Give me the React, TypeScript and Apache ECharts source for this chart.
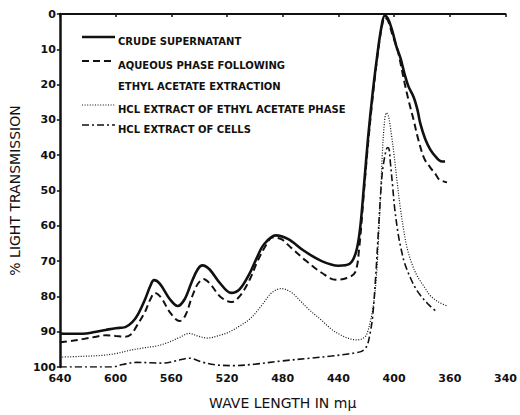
import React, { useEffect, useRef } from "react";
import * as echarts from "echarts";

const seriesNames = [
  "CRUDE SUPERNATANT",
  "AQUEOUS PHASE FOLLOWING\nETHYL ACETATE EXTRACTION",
  "HCL EXTRACT OF ETHYL ACETATE PHASE",
  "HCL EXTRACT OF CELLS",
];

const xTickValues = [640, 600, 560, 520, 480, 440, 400, 360, 320];
const xTickLabels = ["640", "600", "560", "520", "480", "440", "400", "360", "340"];
const yTickLabels = ["0", "10", "20", "30", "40", "50", "60", "70", "80", "90", "100"];

const crudeSupernatant: [number, number][] = [
  [640, 90.5], [630, 90.6], [623.6, 90.6], [615, 90.1], [607, 89.5], [600, 89.0], [593, 88.7],
  [588, 87.3], [583.8, 85], [578.8, 80.8], [575, 77], [572.4, 75.4], [568, 76.5], [561, 80.8],
  [555.4, 82.7], [550.4, 80.8], [545.4, 76], [541, 72.3], [537.6, 71.2], [532.6, 72.3],
  [525.5, 76], [517, 79], [511, 78], [504, 73.7], [498.5, 69], [493.5, 65.3], [485, 62.7],
  [476, 63.8], [465, 67], [452, 70], [440, 71.3], [432, 70.8], [427.4, 67.5],
  [424.5, 61], [421.7, 49], [418.8, 35.5], [415.3, 22], [411.7, 10.5],
  [409, 3.5], [406.8, 0.5], [404.5, 1.2], [401.5, 4.5], [398.5, 9], [395.4, 12.5],
  [392.5, 17], [389.7, 20.5], [386, 23.5], [383.3, 27], [381.2, 31], [377.6, 35.5],
  [374, 38.4], [370, 40.5], [366.5, 41.7], [363.4, 41.8],
];

const aqueousPhase: [number, number][] = [
  [640, 93.0], [630, 92.5], [623.6, 92.1], [615, 91.5], [607, 91.0], [600, 91.2], [593, 91.4],
  [589, 90.8], [585, 88.5], [579, 84.5], [575, 80.8], [571.7, 79], [567, 80.5], [561, 84.5],
  [554, 87], [550, 85.5], [545, 80], [541, 76.5], [537, 75.1], [532, 76.5], [525, 80],
  [517, 81.6], [511, 80], [504, 75.5], [498, 70], [492, 65.5], [487.5, 63.3], [481, 63.8],
  [474, 66.2], [463, 70], [452, 73.3], [442, 75.3], [434, 74.8], [428, 73.2],
  [425, 66], [422, 52], [419, 38], [415.5, 24], [412, 12], [409, 4], [406.6, 1], [404.5, 1.8],
  [401.1, 6], [397.5, 10.2], [392.5, 19.5], [389.7, 24.3], [386, 30], [382.6, 35.6],
  [378.3, 41], [374, 43.5], [370, 45.5], [367.6, 46.9], [362, 47.7],
];

const hclEthylAcetate: [number, number][] = [
  [640, 97.2], [625, 97], [610, 96.7], [600, 96.2], [590, 95.3], [580, 94.6], [570, 94],
  [562, 93], [555, 91.8], [547, 90.5], [541, 91.2], [534, 91.8], [525, 91], [518, 90],
  [511, 88.4], [503, 86.2], [495, 82.5], [488, 79], [481, 77.8], [474, 78.8], [468, 81],
  [461.5, 83.6], [452, 86.8], [445, 89.3], [438, 91], [431, 92.1], [426, 92.3], [421, 91.5],
  [419, 90], [417, 87], [415.3, 83.6], [413, 76], [411, 62], [409.6, 50], [408.5, 40],
  [407, 31], [405.5, 28], [404, 29], [402, 34], [400, 40], [398, 47], [395.5, 55],
  [393, 61.5], [390.4, 66.7], [387, 71], [383.3, 74.3], [378, 77.5], [374, 79.8], [368, 81.6],
  [362, 82.7],
];

const hclCells: [number, number][] = [
  [640, 100], [620, 100], [602, 100], [595, 99.3], [585, 98.7], [575, 98.8], [566, 98.9],
  [556, 98.2], [547, 97.5], [538, 98.6], [528, 99.4], [515, 99.6], [500, 99.2], [481, 98.3],
  [460, 97.5], [445, 96.9], [433, 96.3], [428, 96], [423, 95.5], [419.5, 94], [417.5, 91],
  [415.5, 86], [413.5, 76], [411.5, 63], [410, 53], [408.5, 45], [407, 41], [405.5, 38.3],
  [404.5, 37.8], [403.5, 38.5], [402.7, 42], [401, 49], [399.6, 55], [397, 62.5], [395, 66.5],
  [392.5, 70.5], [388, 75], [383.3, 78.5], [376, 82], [369, 84.5],
];

const ink = "#111";
const lineStyles = [
  { width: 2.6, type: "solid" as any },
  { width: 2, type: [7, 4] as any },
  { width: 1.2, type: [1, 1.6] as any },
  { width: 1.6, type: [7, 3, 2, 3] as any },
];
const seriesData = [crudeSupernatant, aqueousPhase, hclEthylAcetate, hclCells];
const legendRowsY = [37, 61, 105, 125];

export default function App() {
  const ref = useRef<HTMLDivElement>(null);
  useEffect(() => {
    const chart = echarts.init(ref.current!, null, { renderer: "svg" });
    const legendGraphics: any[] = [];
    seriesNames.forEach((name, i) => {
      const y = legendRowsY[i];
      legendGraphics.push({
        type: "line",
        shape: { x1: 82, y1: y, x2: 115, y2: y },
        style: {
          stroke: ink,
          lineWidth: lineStyles[i].width,
          lineDash: Array.isArray(lineStyles[i].type) ? lineStyles[i].type : null,
        },
      });
      legendGraphics.push({
        type: "text",
        x: 118,
        y: y - 6,
        style: {
          text: name,
          fill: ink,
          font: "bold 10px 'DejaVu Sans'",
          lineHeight: 21,
          verticalAlign: "top",
        },
      });
    });

    chart.setOption({
      animation: false,
      grid: { left: 58, right: 12, top: 14, bottom: 47 },
      xAxis: {
        type: "value",
        min: 320,
        max: 640,
        interval: 40,
        inverse: true,
        name: "WAVE LENGTH IN mμ",
        nameLocation: "middle",
        nameGap: 29,
        nameTextStyle: { fontFamily: "DejaVu Sans", fontSize: 14, color: ink },
        axisLine: { lineStyle: { color: ink, width: 2 } },
        axisTick: { length: 3, lineStyle: { color: ink, width: 1.5 } },
        axisLabel: {
          color: ink,
          fontFamily: "DejaVu Sans",
          fontWeight: "bold",
          fontSize: 11,
          margin: 6,
          formatter: (v: number) => xTickLabels[xTickValues.indexOf(v)] ?? "",
        },
        splitLine: { show: false },
      },
      yAxis: {
        type: "value",
        min: 0,
        max: 100,
        interval: 10,
        inverse: true,
        name: "% LIGHT TRANSMISSION",
        nameLocation: "middle",
        nameGap: 34,
        nameRotate: 90,
        nameTextStyle: { fontFamily: "DejaVu Sans", fontSize: 14, color: ink },
        axisLine: { show: true, lineStyle: { color: ink, width: 2.5 } },
        axisTick: { show: true, length: 3, lineStyle: { color: ink, width: 1.5 } },
        axisLabel: {
          color: ink,
          fontFamily: "DejaVu Sans",
          fontWeight: "bold",
          fontSize: 11,
          margin: 4,
          formatter: (v: number) => yTickLabels[Math.round(v / 10)] ?? "",
        },
        splitLine: { show: false },
      },
      series: seriesData.map((d, i) => ({
        name: seriesNames[i],
        type: "line",
        data: d,
        symbol: "none",
        smooth: 0.35,
        lineStyle: { color: ink, width: lineStyles[i].width, type: lineStyles[i].type },
        z: 4 - i,
      })),
      graphic: legendGraphics,
    });
    return () => chart.dispose();
  }, []);
  return (
    <div
      ref={ref}
      style={{ position: "absolute", left: 0, top: 0, width: 520, height: 415, background: "#fff" }}
    />
  );
}
